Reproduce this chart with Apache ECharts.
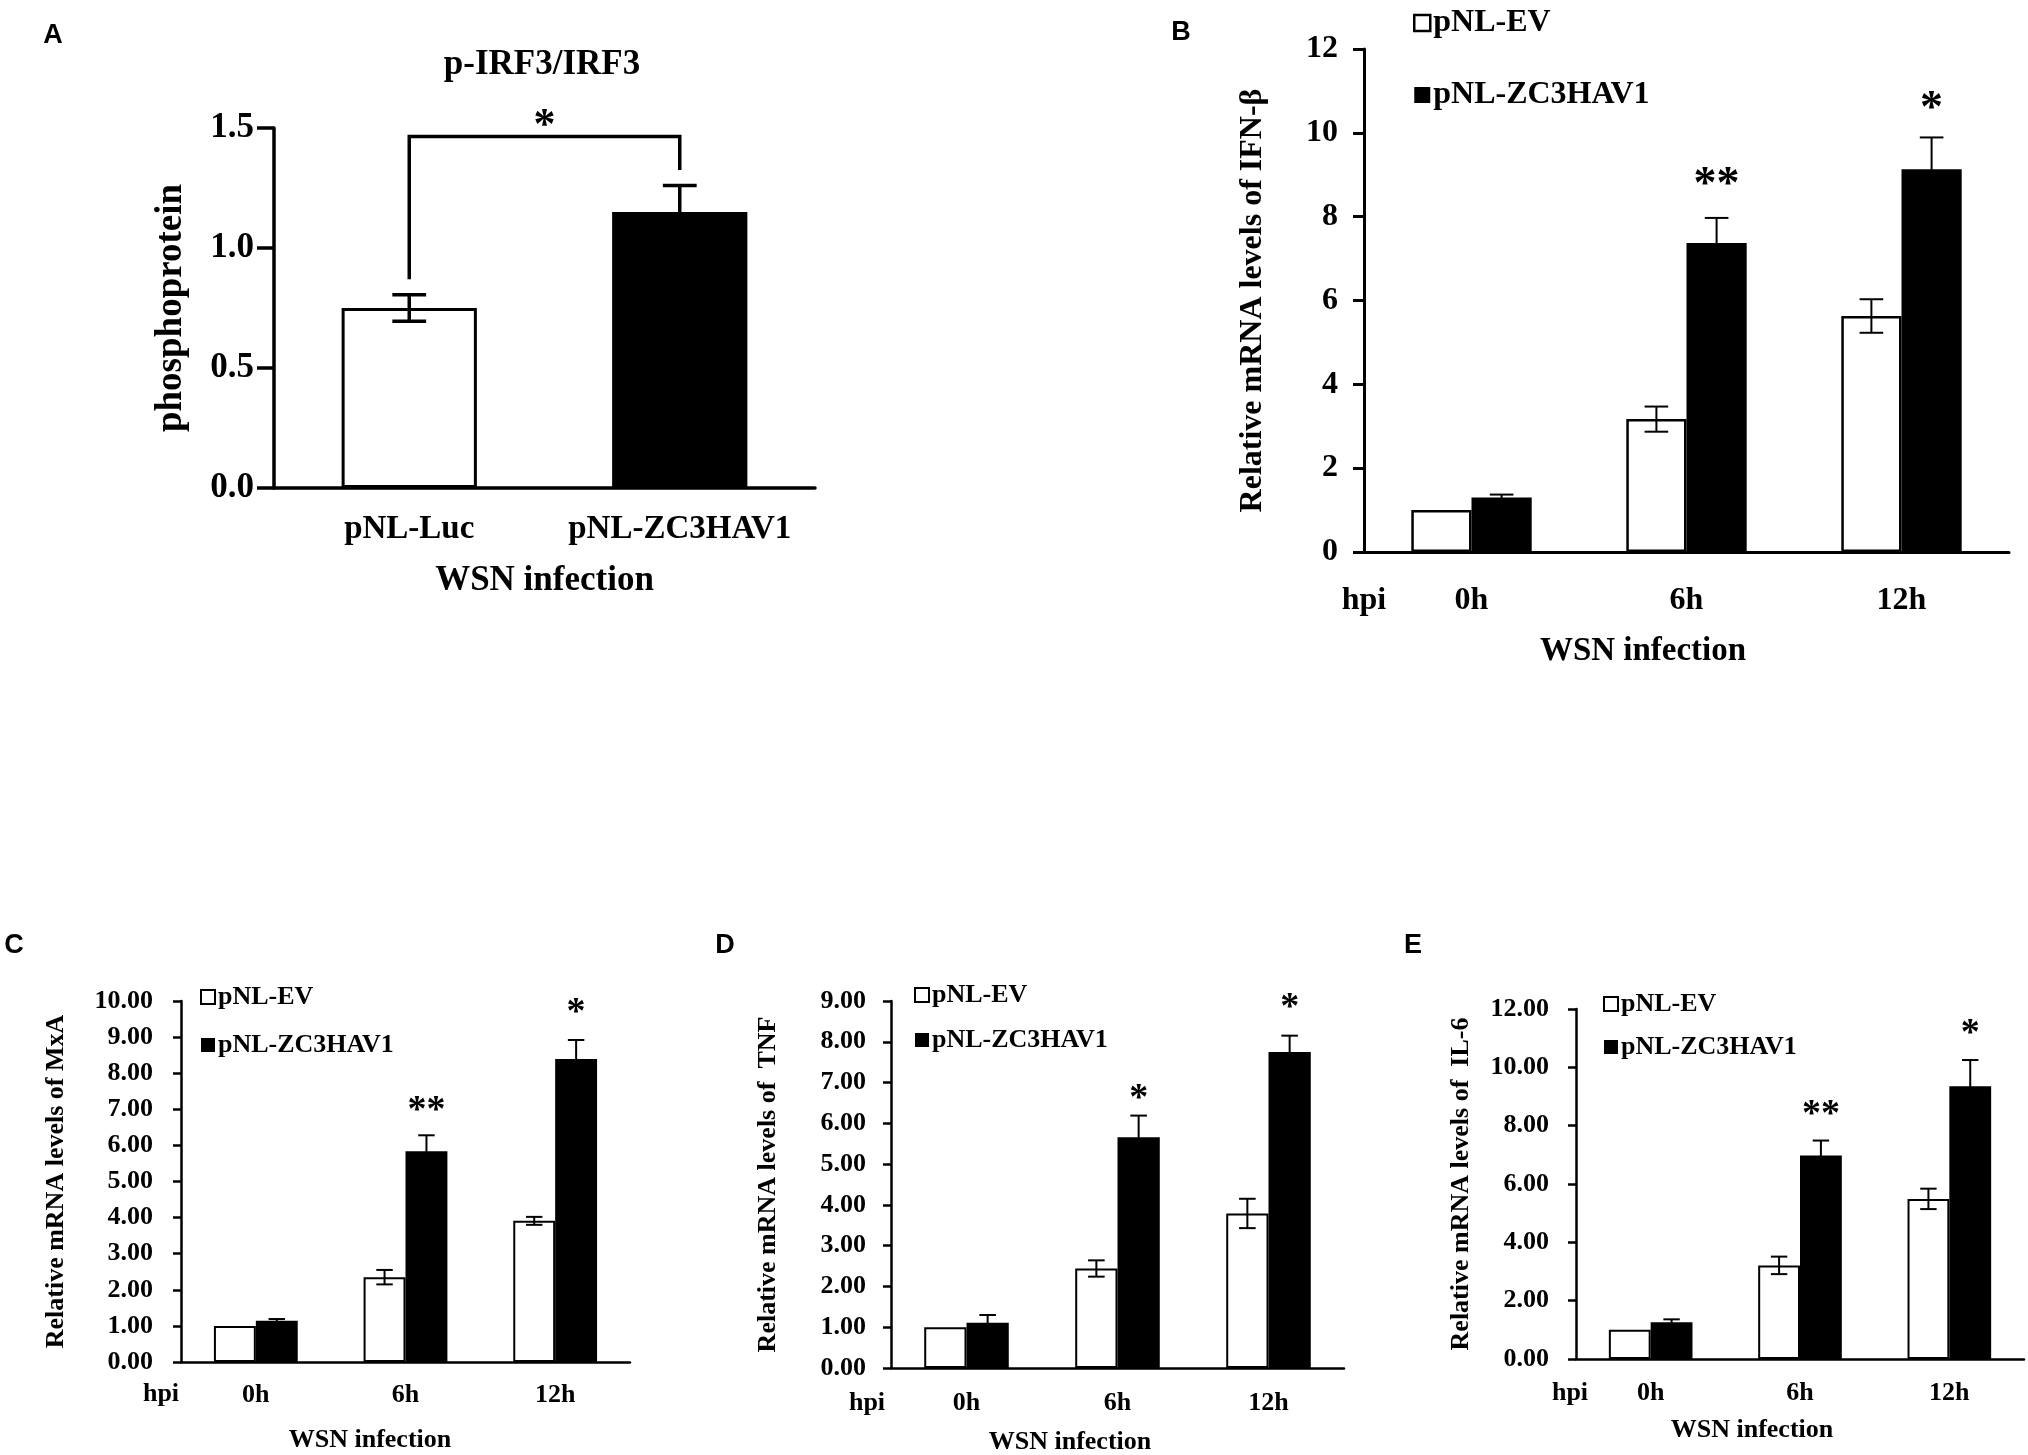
<!DOCTYPE html>
<html>
<head>
<meta charset="utf-8">
<script src="https://cdn.jsdelivr.net/npm/echarts@6/dist/echarts.min.js"></script>
<style>
html, body { margin: 0; padding: 0; background: #fff; }
#main { width: 2028px; height: 1455px; }
</style>
</head>
<body>
<div id="main"></div>
<script>
// ---- data ----
var groupsA = ['pNL-Luc', 'pNL-ZC3HAV1'];
var valuesA = [0.75, 1.15];
var errorsA = [0.055, 0.11];
// bracket: left foot, top, right foot, star level
var bracketA = [0.87, 1.465, 1.325, 1.54];

var timepoints = ['0h', '6h', '12h'];
var seriesNames = ['pNL-EV', 'pNL-ZC3HAV1'];

var ifnEV = [1.0, 3.17, 5.63];
var ifnEVErr = [0, 0.3, 0.4];
var ifnZC = [1.30, 7.37, 9.13];
var ifnZCErr = [0.07, 0.6, 0.76];
var ifnStars = ['', '**', '*'];
var ifnStarY = [0, 8.92, 10.73];

var mxaEV = [1.0, 2.35, 3.91];
var mxaEVErr = [0, 0.2, 0.11];
var mxaZC = [1.14, 5.84, 8.39];
var mxaZCErr = [0.05, 0.44, 0.53];
var mxaStars = ['', '**', '*'];
var mxaStarY = [0, 7.15, 9.84];

var tnfEV = [1.0, 2.44, 3.79];
var tnfEVErr = [0, 0.2, 0.36];
var tnfZC = [1.11, 5.66, 7.75];
var tnfZCErr = [0.19, 0.53, 0.40];
var tnfStars = ['', '*', '*'];
var tnfStarY = [0, 6.77, 8.99];

var il6EV = [1.0, 3.21, 5.49];
var il6EVErr = [0, 0.3, 0.35];
var il6ZC = [1.26, 6.98, 9.35];
var il6ZCErr = [0.1, 0.51, 0.9];
var il6Stars = ['', '**', '*'];
var il6StarY = [0, 8.61, 11.36];

var SERIF = '"Liberation Serif", "Times New Roman", serif';
var SANS = '"Liberation Sans", Arial, sans-serif';

// ---- helpers ----
function errRender(offset, cap, lw) {
    return function (params, api) {
        var e = api.value(2);
        if (!e) return null;
        var i = api.value(0), v = api.value(1);
        var band = api.size([1, 0])[0];
        var cx = api.coord([i, v])[0] + offset * band;
        var hi = api.coord([i, v + e])[1];
        var lo = api.coord([i, v - e])[1];
        var w = cap * band / 2;
        var st = {stroke: '#000', lineWidth: lw};
        return {
            type: 'group',
            children: [
                {type: 'line', shape: {x1: cx, y1: hi, x2: cx, y2: lo}, style: st},
                {type: 'line', shape: {x1: cx - w, y1: hi, x2: cx + w, y2: hi}, style: st},
                {type: 'line', shape: {x1: cx - w, y1: lo, x2: cx + w, y2: lo}, style: st}
            ]
        };
    };
}

function starRender(offset, size) {
    return function (params, api) {
        var s = api.value(2);
        if (!s) return null;
        var i = api.value(0), v = api.value(1);
        var band = api.size([1, 0])[0];
        var p = api.coord([i, v]);
        return {
            type: 'text',
            style: {
                text: s, x: p[0] + offset * band, y: p[1] + size * 0.18,
                align: 'center', verticalAlign: 'middle',
                font: 'bold ' + size + 'px ' + SERIF, fill: '#000'
            }
        };
    };
}

function zip(a, b) {
    return a.map(function (v, i) { return [i, v, b[i]]; });
}

// ---- panels B..E ----
var panels = [
    {key: 'B', ev: ifnEV, evErr: ifnEVErr, zc: ifnZC, zcErr: ifnZCErr, stars: ifnStars, starY: ifnStarY,
     grid: {left: 1364, top: 49, width: 645, height: 503}, max: 12, interval: 2, digits: 0,
     fs: 32, axisW: 3, border: 2.5, tickY: 11, tickX: 12, labelMargin: 26, catMargin: 33, starSize: 46,
     yName: 'Relative mRNA levels of IFN-\u03b2', yGap: 95,
     legend: {left: 1408, top: 2, itemGap: 40, icon: 16}},
    {key: 'C', ev: mxaEV, evErr: mxaEVErr, zc: mxaZC, zcErr: mxaZCErr, stars: mxaStars, starY: mxaStarY,
     grid: {left: 181, top: 1001, width: 449, height: 361}, max: 10, interval: 1, digits: 2,
     fs: 26, axisW: 2.5, border: 2, tickY: 8, tickX: 8, labelMargin: 28, catMargin: 20, starSize: 38,
     yName: 'Relative mRNA levels of MxA', yGap: 112,
     legend: {left: 195, top: 979, itemGap: 22, icon: 14}},
    {key: 'D', ev: tnfEV, evErr: tnfEVErr, zc: tnfZC, zcErr: tnfZCErr, stars: tnfStars, starY: tnfStarY,
     grid: {left: 891, top: 1001, width: 453, height: 367}, max: 9, interval: 1, digits: 2,
     fs: 26, axisW: 2.5, border: 2, tickY: 8, tickX: 8, labelMargin: 25, catMargin: 22, starSize: 38,
     yName: 'Relative mRNA levels of  TNF', yGap: 110,
     legend: {left: 909, top: 977, itemGap: 19, icon: 14}},
    {key: 'E', ev: il6EV, evErr: il6EVErr, zc: il6ZC, zcErr: il6ZCErr, stars: il6Stars, starY: il6StarY,
     grid: {left: 1576, top: 1009, width: 448, height: 350}, max: 12, interval: 2, digits: 2,
     fs: 26, axisW: 2.5, border: 2, tickY: 8, tickX: 8, labelMargin: 27, catMargin: 21, starSize: 38,
     yName: 'Relative mRNA levels of  IL-6', yGap: 102,
     legend: {left: 1598, top: 986, itemGap: 17, icon: 14}}
];

var grids = [], xAxes = [], yAxes = [], series = [], legends = [];

// panel A
grids.push({left: 274, top: 128, width: 541, height: 360});
xAxes.push({
    type: 'category', gridIndex: 0, data: groupsA,
    axisLine: {lineStyle: {color: '#000', width: 3.5}},
    axisTick: {alignWithLabel: true, length: 18, lineStyle: {color: '#000', width: 3.5}},
    axisLabel: {interval: 0, color: '#000', fontFamily: SERIF, fontWeight: 'bold', fontSize: 33, margin: 25},
    name: 'WSN infection', nameLocation: 'middle', nameGap: 75,
    nameTextStyle: {color: '#000', fontFamily: SERIF, fontWeight: 'bold', fontSize: 35}
});
yAxes.push({
    type: 'value', gridIndex: 0, min: 0, max: 1.5, interval: 0.5,
    axisLine: {show: true, lineStyle: {color: '#000', width: 3.5}},
    axisTick: {show: true, length: 17, lineStyle: {color: '#000', width: 3.5}},
    splitLine: {show: false},
    axisLabel: {color: '#000', fontFamily: SERIF, fontWeight: 'bold', fontSize: 35, margin: 20,
        formatter: function (v) { return v.toFixed(1); }},
    name: 'phosphoprotein', nameLocation: 'middle', nameRotate: 90, nameGap: 84,
    nameTextStyle: {color: '#000', fontFamily: SERIF, fontWeight: 'bold', fontSize: 37}
});
series.push({
    name: 'p-IRF3/IRF3', type: 'bar', xAxisIndex: 0, yAxisIndex: 0,
    barCategoryGap: '50%', z: 2,
    data: valuesA.map(function (v, i) {
        return {value: v, itemStyle: i === 0
            ? {color: '#fff', borderColor: '#000', borderWidth: 3}
            : {color: '#000', borderColor: '#000', borderWidth: 3}};
    })
});
series.push({
    type: 'custom', xAxisIndex: 0, yAxisIndex: 0, z: 3, silent: true,
    data: zip(valuesA, errorsA), renderItem: errRender(0, 0.125, 3.5)
});
series.push({
    type: 'custom', xAxisIndex: 0, yAxisIndex: 0, z: 3, silent: true,
    data: [bracketA],
    renderItem: function (params, api) {
        var pl = api.coord([0, api.value(0)]);
        var pt = api.coord([0, api.value(1)]);
        var pr = api.coord([1, api.value(2)]);
        var ps = api.coord([1, api.value(3)]);
        var xr = pr[0];
        return {
            type: 'group',
            children: [
                {type: 'polyline', shape: {points: [[pl[0], pl[1]], [pl[0], pt[1]], [xr, pt[1]], [xr, pr[1]]]},
                 style: {stroke: '#000', lineWidth: 3.5, fill: null}},
                {type: 'text', style: {text: '*', x: (pl[0] + xr) / 2, y: ps[1] + 8,
                 align: 'center', verticalAlign: 'middle', font: 'bold 44px ' + SERIF, fill: '#000'}}
            ]
        };
    }
});

panels.forEach(function (p, k) {
    var gi = k + 1;
    grids.push(p.grid);
    xAxes.push({
        type: 'category', gridIndex: gi, data: timepoints,
        axisLine: {lineStyle: {color: '#000', width: p.axisW}},
        axisTick: {length: p.tickX, lineStyle: {color: '#000', width: p.axisW}},
        axisLabel: {interval: 0, color: '#000', fontFamily: SERIF, fontWeight: 'bold', fontSize: p.fs, margin: p.catMargin}
    });
    yAxes.push({
        type: 'value', gridIndex: gi, min: 0, max: p.max, interval: p.interval,
        axisLine: {show: true, lineStyle: {color: '#000', width: p.axisW}},
        axisTick: {show: true, length: p.tickY, lineStyle: {color: '#000', width: p.axisW}},
        splitLine: {show: false},
        axisLabel: {color: '#000', fontFamily: SERIF, fontWeight: 'bold', fontSize: p.fs, margin: p.labelMargin,
            formatter: (function (d) { return function (v) { return v.toFixed(d); }; })(p.digits)},
        name: p.yName, nameLocation: 'middle', nameRotate: 90, nameGap: p.yGap,
        nameTextStyle: {color: '#000', fontFamily: SERIF, fontWeight: 'bold', fontSize: p.fs}
    });
    series.push({
        name: seriesNames[0], type: 'bar', xAxisIndex: gi, yAxisIndex: gi,
        barGap: '0%', barCategoryGap: '44%', z: 2, data: p.ev,
        itemStyle: {color: '#fff', borderColor: '#000', borderWidth: p.border}
    });
    series.push({
        name: seriesNames[1], type: 'bar', xAxisIndex: gi, yAxisIndex: gi,
        barGap: '0%', barCategoryGap: '44%', z: 2, data: p.zc,
        itemStyle: {color: '#000', borderColor: '#000', borderWidth: p.border}
    });
    series.push({
        type: 'custom', xAxisIndex: gi, yAxisIndex: gi, z: 3, silent: true,
        data: zip(p.ev, p.evErr), renderItem: errRender(-0.14, 0.11, 2)
    });
    series.push({
        type: 'custom', xAxisIndex: gi, yAxisIndex: gi, z: 3, silent: true,
        data: zip(p.zc, p.zcErr), renderItem: errRender(0.14, 0.11, 2)
    });
    series.push({
        type: 'custom', xAxisIndex: gi, yAxisIndex: gi, z: 3, silent: true,
        data: p.starY.map(function (v, i) { return [i, v, p.stars[i]]; }),
        renderItem: starRender(0.14, p.starSize)
    });
    legends.push({
        orient: 'vertical', left: p.legend.left, top: p.legend.top,
        itemWidth: p.legend.icon, itemHeight: p.legend.icon, itemGap: p.legend.itemGap,
        selectedMode: false, icon: 'rect',
        textStyle: {color: '#000', fontFamily: SERIF, fontWeight: 'bold', fontSize: p.fs, padding: [0, 0, 0, -2]},
        data: [
            {name: seriesNames[0], itemStyle: {color: '#fff', borderColor: '#000', borderWidth: p.border}},
            {name: seriesNames[1], itemStyle: {color: '#000', borderWidth: 0}}
        ]
    });
});

// ---- free texts: panel letters, title, hpi, axis names ----
function txt(x, y, s, size, family, weight) {
    return {type: 'text', x: x, y: y, style: {text: s, align: 'center', verticalAlign: 'middle',
        font: (weight || 'bold') + ' ' + size + 'px ' + family, fill: '#000'}};
}
var graphics = [
    txt(53, 36, 'A', 27, SANS),
    txt(1181, 33, 'B', 27, SANS),
    txt(14, 946, 'C', 27, SANS),
    txt(725, 946, 'D', 27, SANS),
    txt(1413, 946, 'E', 27, SANS),
    txt(542, 65, 'p-IRF3/IRF3', 35, SERIF),
    txt(1364, 601, 'hpi', 32, SERIF),
    txt(1643, 651, 'WSN infection', 33, SERIF),
    txt(161, 1394, 'hpi', 26, SERIF),
    txt(370, 1440, 'WSN infection', 26, SERIF),
    txt(867, 1403, 'hpi', 26, SERIF),
    txt(1070, 1442, 'WSN infection', 26, SERIF),
    txt(1570, 1393, 'hpi', 26, SERIF),
    txt(1752, 1430, 'WSN infection', 26, SERIF)
];

var chart = echarts.init(document.getElementById('main'));
chart.setOption({
    backgroundColor: '#fff',
    animation: false,
    grid: grids,
    xAxis: xAxes,
    yAxis: yAxes,
    legend: legends,
    series: series,
    graphic: graphics
});
</script>
</body>
</html>
